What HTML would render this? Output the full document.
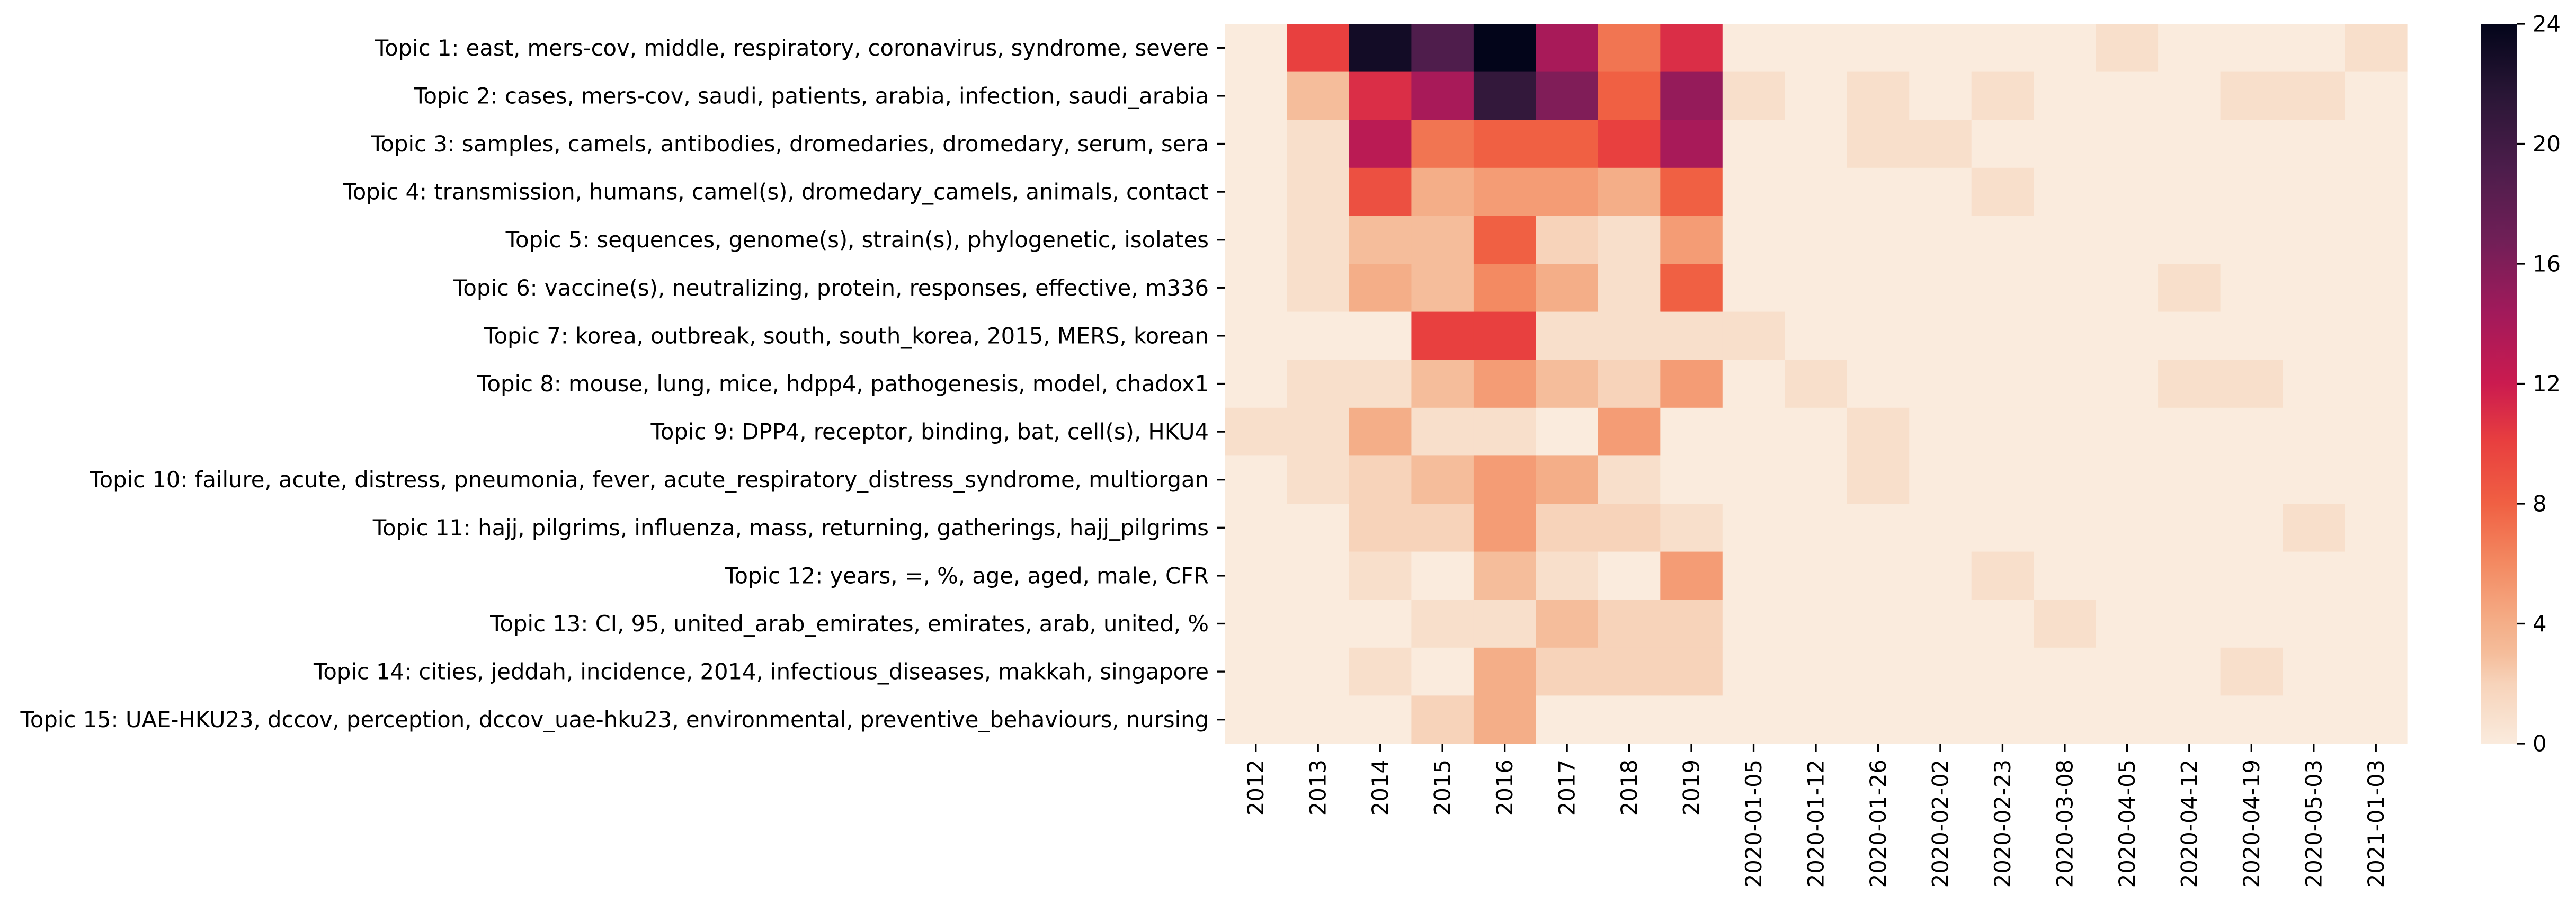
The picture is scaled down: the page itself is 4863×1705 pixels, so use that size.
<!DOCTYPE html>
<html><head><meta charset="utf-8"><style>
html,body{margin:0;padding:0;background:#fff;}
svg{display:block;font-family:"DejaVu Sans","Liberation Sans",sans-serif;}
</style></head><body>
<svg id="chart" width="4863" height="1705" xmlns="http://www.w3.org/2000/svg">
<defs>
<linearGradient id="cbgrad" x1="0" y1="1" x2="0" y2="0">
<stop offset="0" stop-color="#faebdd"/><stop offset="0.083" stop-color="#f7d3ba"/>
<stop offset="0.125" stop-color="#f5bd9b"/><stop offset="0.167" stop-color="#f4ae88"/>
<stop offset="0.25" stop-color="#f38a62"/><stop offset="0.333" stop-color="#f06043"/>
<stop offset="0.42" stop-color="#e83f3f"/><stop offset="0.5" stop-color="#cb1b4f"/>
<stop offset="0.6" stop-color="#a11a5b"/><stop offset="0.7" stop-color="#701f57"/>
<stop offset="0.8" stop-color="#4c1d4b"/><stop offset="0.9" stop-color="#2a1636"/>
<stop offset="1" stop-color="#03051a"/>
</linearGradient>
</defs>
<g id="cells"></g>
<g id="yaxis"></g>
<g id="xaxis"></g>
<g id="cbar"></g>
</svg>
<script>
const topics = [
"Topic 1: east, mers-cov, middle, respiratory, coronavirus, syndrome, severe",
"Topic 2: cases, mers-cov, saudi, patients, arabia, infection, saudi_arabia",
"Topic 3: samples, camels, antibodies, dromedaries, dromedary, serum, sera",
"Topic 4: transmission, humans, camel(s), dromedary_camels, animals, contact",
"Topic 5: sequences, genome(s), strain(s), phylogenetic, isolates",
"Topic 6: vaccine(s), neutralizing, protein, responses, effective, m336",
"Topic 7: korea, outbreak, south, south_korea, 2015, MERS, korean",
"Topic 8: mouse, lung, mice, hdpp4, pathogenesis, model, chadox1",
"Topic 9: DPP4, receptor, binding, bat, cell(s), HKU4",
"Topic 10: failure, acute, distress, pneumonia, fever, acute_respiratory_distress_syndrome, multiorgan",
"Topic 11: hajj, pilgrims, influenza, mass, returning, gatherings, hajj_pilgrims",
"Topic 12: years, =, %, age, aged, male, CFR",
"Topic 13: CI, 95, united_arab_emirates, emirates, arab, united, %",
"Topic 14: cities, jeddah, incidence, 2014, infectious_diseases, makkah, singapore",
"Topic 15: UAE-HKU23, dccov, perception, dccov_uae-hku23, environmental, preventive_behaviours, nursing"
];
const periods = ["2012","2013","2014","2015","2016","2017","2018","2019","2020-01-05","2020-01-12","2020-01-26","2020-02-02","2020-02-23","2020-03-08","2020-04-05","2020-04-12","2020-04-19","2020-05-03","2021-01-03"];
const row1  = [0,10,23,19,24,14,7,11,0,0,0,0,0,0,1,0,0,0,1];
const row2  = [0,3,11,14,21,16,8,15,1,0,1,0,1,0,0,0,1,1,0];
const row3  = [0,1,13,7,8,8,10,14,0,0,1,1,0,0,0,0,0,0,0];
const row4  = [0,1,9,4,5,5,4,8,0,0,0,0,1,0,0,0,0,0,0];
const row5  = [0,1,3,3,8,2,1,5,0,0,0,0,0,0,0,0,0,0,0];
const row6  = [0,1,4,3,6,4,1,8,0,0,0,0,0,0,0,1,0,0,0];
const row7  = [0,0,0,10,10,1,1,1,1,0,0,0,0,0,0,0,0,0,0];
const row8  = [0,1,1,3,5,3,2,5,0,1,0,0,0,0,0,1,1,0,0];
const row9  = [1,1,4,1,1,0,5,0,0,0,1,0,0,0,0,0,0,0,0];
const row10 = [0,1,2,3,5,4,1,0,0,0,1,0,0,0,0,0,0,0,0];
const row11 = [0,0,2,2,5,2,2,1,0,0,0,0,0,0,0,0,0,1,0];
const row12 = [0,0,1,0,3,1,0,5,0,0,0,0,1,0,0,0,0,0,0];
const row13 = [0,0,0,1,1,3,2,2,0,0,0,0,0,1,0,0,0,0,0];
const row14 = [0,0,1,0,4,2,2,2,0,0,0,0,0,0,0,0,1,0,0];
const row15 = [0,0,0,2,4,0,0,0,0,0,0,0,0,0,0,0,0,0,0];
const cbTicks = [0,4,8,12,16,20,24];
const vmax = 24;

const rows = [row1,row2,row3,row4,row5,row6,row7,row8,row9,row10,row11,row12,row13,row14,row15];
const NS = "http://www.w3.org/2000/svg";
const L = 2312, R = 4544, T = 45, B = 1404;
const cw = (R - L) / periods.length, rh = (B - T) / topics.length;
const xPos = i => L + i * cw;
const yPos = j => T + j * rh;
const stops = [[0,[250,235,221]],[0.083,[247,211,186]],[0.125,[245,189,155]],[0.167,[244,174,136]],[0.25,[243,138,98]],[0.333,[240,96,67]],[0.42,[232,63,63]],[0.5,[203,27,79]],[0.6,[161,26,91]],[0.7,[112,31,87]],[0.8,[76,29,75]],[0.9,[42,22,54]],[1,[3,5,26]]];
function color(v){
  const t = Math.max(0, Math.min(1, v / vmax));
  for (let k = 1; k < stops.length; k++) {
    if (t <= stops[k][0]) {
      const a = stops[k-1], b = stops[k], f = (t - a[0]) / (b[0] - a[0]);
      const c = a[1].map((x, i) => Math.round(x + (b[1][i] - x) * f));
      return `rgb(${c[0]},${c[1]},${c[2]})`;
    }
  }
  return "rgb(3,5,26)";
}
function mk(tag, attrs, parent){
  const e = document.createElementNS(NS, tag);
  for (const k in attrs) e.setAttribute(k, attrs[k]);
  parent.appendChild(e); return e;
}
const cells = document.getElementById("cells");
rows.forEach((r, j) => r.forEach((v, i) => {
  const c = mk("rect", {x: xPos(i), y: yPos(j), width: cw + 0.6, height: rh + 0.6, fill: color(v)}, cells);
  
  
}));
const ya = document.getElementById("yaxis");
topics.forEach((t, j) => {
  const y = yPos(j) + rh / 2;
  const tk = mk("line", {x1: L - 15, x2: L, y1: y, y2: y, stroke: "#000", "stroke-width": 3.3}, ya);
  
  
  const tx = mk("text", {x: L - 30, y: y, "text-anchor": "end", "dominant-baseline": "central", "font-size": 41.7}, ya);
  tx.textContent = t;
  
  
});
const xa = document.getElementById("xaxis");
periods.forEach((p, i) => {
  const x = xPos(i) + cw / 2;
  const tk = mk("line", {x1: x, x2: x, y1: B, y2: B + 15, stroke: "#000", "stroke-width": 3.3}, xa);
  
  
  const tx = mk("text", {x: 0, y: 0, transform: `translate(${x},${B + 30}) rotate(-90)`, "text-anchor": "end", "dominant-baseline": "central", "font-size": 41.7}, xa);
  tx.textContent = p;
  
  
});
const cb = document.getElementById("cbar");
const cbL = 4683, cbW = 68;
const bar = mk("rect", {x: cbL, y: T, width: cbW, height: B - T, fill: "url(#cbgrad)"}, cb);


cbTicks.forEach(v => {
  const y = B - (v / vmax) * (B - T);
  const tk = mk("line", {x1: cbL + cbW, x2: cbL + cbW + 15, y1: y, y2: y, stroke: "#000", "stroke-width": 3.3}, cb);
  
  
  const tx = mk("text", {x: cbL + cbW + 30, y: y, "dominant-baseline": "central", "font-size": 41.7}, cb);
  tx.textContent = v;
  
  
});
</script>
</body></html>
